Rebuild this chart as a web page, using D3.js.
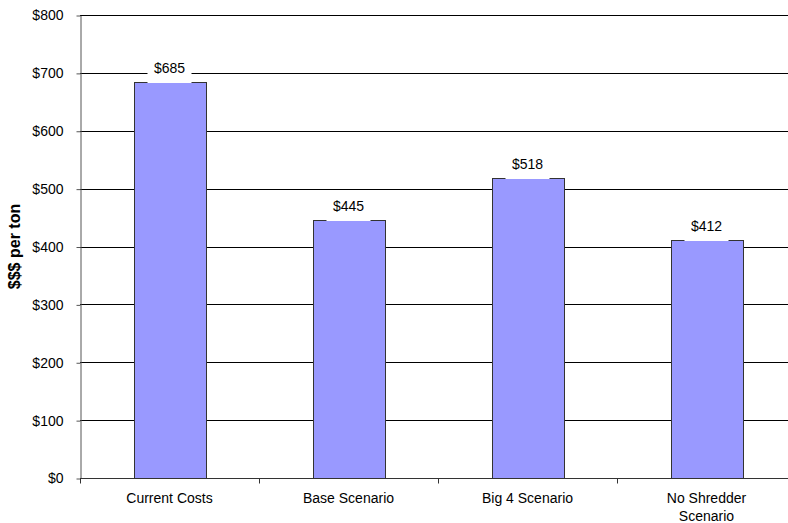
<!DOCTYPE html>
<html>
<head>
<meta charset="utf-8">
<script src="https://cdn.jsdelivr.net/npm/d3@7"></script>
<style>
  body { margin: 0; background: #fff; }
  svg { display: block; font-family: "Liberation Sans", Arial, sans-serif; }
</style>
</head>
<body>
<div id="viz"></div>
<script>
const width = 788;
const height = 523;
const margin = {top: 15, right: -8, bottom: 45, left: 80};

const categories = ['Current Costs', 'Base Scenario', 'Big 4 Scenario', 'No Shredder Scenario'];
const costs = [685, 445, 518, 412];
const yTicks = [0, 100, 200, 300, 400, 500, 600, 700, 800];

const svg = d3.select('#viz')
  .append('svg')
    .attr('width', width)
    .attr('height', height);

const xScale = d3.scaleBand()
  .domain(categories)
  .range([margin.left, width - margin.right])
  .paddingInner(0.6)
  .paddingOuter(0.3);

const yScale = d3.scaleLinear()
  .domain([0, 800])
  .range([height - margin.bottom, margin.top]);

// gridlines
svg.append('g')
  .selectAll('line')
  .data(yTicks.slice(1))
  .join('line')
    .attr('x1', margin.left)
    .attr('x2', width - margin.right)
    .attr('y1', d => Math.round(yScale(d)) + 0.5)
    .attr('y2', d => Math.round(yScale(d)) + 0.5)
    .attr('stroke', '#000')
    .attr('stroke-width', 1);

// bars
svg.append('g')
  .selectAll('rect')
  .data(costs)
  .join('rect')
    .attr('x', (d, i) => Math.round(xScale(categories[i])) + 0.5)
    .attr('y', d => Math.round(yScale(d)) + 0.5)
    .attr('width', Math.round(xScale.bandwidth()))
    .attr('height', d => Math.round(yScale(0)) - Math.round(yScale(d)))
    .attr('fill', '#9999ff')
    .attr('stroke', '#333')
    .attr('stroke-width', 1);

// value labels with white backing (covers grid and bar top edge)
const labels = svg.append('g')
  .selectAll('g')
  .data(costs)
  .join('g')
    .attr('transform', (d, i) => `translate(${xScale(categories[i]) + xScale.bandwidth() / 2}, ${Math.round(yScale(d)) - 9})`);

labels.append('rect')
  .attr('x', -22)
  .attr('y', -15)
  .attr('width', 44)
  .attr('height', 25)
  .attr('fill', '#fff');

labels.append('text')
  .attr('text-anchor', 'middle')
  .attr('font-size', 14)
  .attr('fill', '#000')
  .text(d => d3.format('$,')(d));

// y axis
const yAxis = svg.append('g')
  .attr('transform', `translate(${margin.left + 0.5}, 0.5)`)
  .call(d3.axisLeft(yScale).tickValues(yTicks).tickSize(4).tickSizeOuter(0).tickFormat(d => '$' + d));
yAxis.select('.domain').attr('stroke', '#555');
yAxis.selectAll('.tick line').attr('stroke', '#555');
yAxis.selectAll('.tick text')
  .attr('font-size', 14)
  .attr('fill', '#000')
  .attr('font-family', '"Liberation Sans", Arial, sans-serif')
  .attr('x', -17);

// x axis
const bottom = Math.round(yScale(0)) + 0.5;
const xg = svg.append('g');
xg.append('line')
  .attr('x1', margin.left)
  .attr('x2', width - margin.right)
  .attr('y1', bottom)
  .attr('y2', bottom)
  .attr('stroke', '#333');

const step = xScale.step();
const bounds = d3.range(categories.length + 1).map(i => margin.left + i * step);
xg.selectAll('line.tk')
  .data(bounds)
  .join('line')
    .attr('class', 'tk')
    .attr('x1', d => Math.round(d) + 0.5)
    .attr('x2', d => Math.round(d) + 0.5)
    .attr('y1', bottom)
    .attr('y2', bottom + 5)
    .attr('stroke', '#333');

const catLines = {
  'No Shredder Scenario': ['No Shredder', 'Scenario']
};
xg.selectAll('text')
  .data(categories)
  .join('text')
    .attr('text-anchor', 'middle')
    .attr('font-size', 14)
    .attr('fill', '#000')
    .attr('x', d => xScale(d) + xScale.bandwidth() / 2)
    .attr('y', bottom + 24)
    .each(function(d) {
      const parts = catLines[d] || [d];
      d3.select(this).selectAll('tspan')
        .data(parts)
        .join('tspan')
          .attr('x', xScale(d) + xScale.bandwidth() / 2)
          .attr('dy', (p, i) => i === 0 ? 0 : 18)
          .text(p => p);
    });

// y axis title
svg.append('text')
  .attr('transform', `translate(20, ${(yScale(0) + yScale(800)) / 2}) rotate(-90)`)
  .attr('text-anchor', 'middle')
  .attr('font-size', 16)
  .attr('font-weight', 'bold')
  .text('$$$ per ton');
</script>
</body>
</html>
